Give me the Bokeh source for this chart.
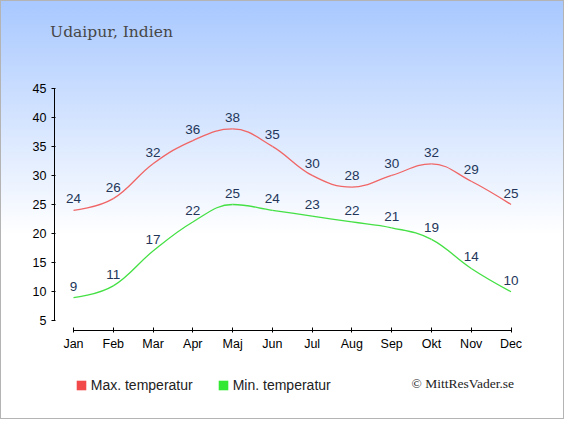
from bokeh.plotting import figure
from bokeh.models import (Range1d, LinearAxis, FixedTicker, Label, Legend, LegendItem,
                          ColumnDataSource, CustomJSTickFormatter)
from bokeh.core.properties import value
from bokeh.embed import file_html
from bokeh.resources import INLINE

months = ["Jan", "Feb", "Mar", "Apr", "Maj", "Jun", "Jul", "Aug", "Sep", "Okt", "Nov", "Dec"]
max_temp = [24, 26, 32, 36, 38, 35, 30, 28, 30, 32, 29, 25]
min_temp = [9, 11, 17, 22, 25, 24, 23, 22, 21, 19, 14, 10]
y_ticks = [5, 10, 15, 20, 25, 30, 35, 40, 45]
title_text = "Udaipur, Indien"
legend_max = "Max. temperatur"
legend_min = "Min. temperatur"
credit = "\u00a9 MittResVader.se"

W, H = 564, 419
# layout (canvas px): Jan at 72, Dec at 509.5 ; y=45 at 86.7, y=5 at 319.3
PX_X = (509.5 - 72.0) / 11.0
PX_Y = (319.3 - 86.7) / 40.0
x0 = -72.0 / PX_X
x1 = x0 + W / PX_X
y1 = 45 + 86.7 / PX_Y
y0 = 5 - (H - 319.3) / PX_Y


def dx(cx):
    return x0 + cx / PX_X


def dy(cy):
    return y1 - cy / PX_Y


p = figure(width=W, height=H, output_backend="svg", toolbar_location=None,
           x_range=Range1d(x0, x1), y_range=Range1d(y0, y1),
           x_axis_type=None, y_axis_type=None, title_location=None,
           min_border_left=0, min_border_right=0, min_border_top=0, min_border_bottom=0)
p.background_fill_color = None
p.border_fill_color = None
p.outline_line_color = None
p.grid.visible = False
p.styles = {"background": "linear-gradient(to bottom, #a8c8ff 0%, #ffffff 56%, #ffffff 100%)",
            "border": "1px solid #b4b4b4", "box-sizing": "border-box"}

xs = list(range(len(months)))

yax = LinearAxis(ticker=FixedTicker(ticks=y_ticks), bounds=(5, 45), fixed_location=dx(53.0))
yax.axis_line_color = "black"
yax.major_tick_line_color = "black"
yax.major_tick_out = 3
yax.major_tick_in = 1
yax.minor_tick_line_color = None
yax.major_label_text_font = "Liberation Sans"
yax.major_label_text_font_size = "12.5px"
yax.major_label_text_color = "#000000"
yax.major_label_standoff = 5
p.add_layout(yax, "left")

xax = LinearAxis(ticker=FixedTicker(ticks=xs), bounds=(0, 11), fixed_location=dy(328.5))
xax.formatter = CustomJSTickFormatter(args=dict(labels=months),
                                      code="return labels[Math.round(tick)] || '';")
xax.axis_line_color = "black"
xax.major_tick_line_color = "black"
xax.major_tick_out = 2
xax.major_tick_in = 3
xax.minor_tick_line_color = None
xax.major_label_text_font = "Liberation Sans"
xax.major_label_text_font_size = "12.5px"
xax.major_label_text_color = "#000000"
xax.major_label_standoff = 5
p.add_layout(xax, "below")


def spline(xv, yv):
    # Highcharts-like spline (smoothing 1.5) computed in pixel space
    px = [x * PX_X for x in xv]
    py = [-y * PX_Y for y in yv]
    n = len(px)
    left = [None] * n
    right = [None] * n
    sm, den = 1.5, 2.5
    for i in range(1, n - 1):
        lx = (sm * px[i] + px[i - 1]) / den
        ly = (sm * py[i] + py[i - 1]) / den
        rx = (sm * px[i] + px[i + 1]) / den
        ry = (sm * py[i] + py[i + 1]) / den
        if rx != lx:
            corr = ((ry - ly) * (rx - px[i])) / (rx - lx) + py[i] - ry
            ly += corr
            ry += corr
        if ly > max(py[i - 1], py[i]):
            ly = max(py[i - 1], py[i]); ry = 2 * py[i] - ly
        elif ly < min(py[i - 1], py[i]):
            ly = min(py[i - 1], py[i]); ry = 2 * py[i] - ly
        if ry > max(py[i + 1], py[i]):
            ry = max(py[i + 1], py[i]); ly = 2 * py[i] - ry
        elif ry < min(py[i + 1], py[i]):
            ry = min(py[i + 1], py[i]); ly = 2 * py[i] - ry
        left[i] = (lx, ly)
        right[i] = (rx, ry)
    d = dict(x0=[], y0=[], x1=[], y1=[], cx0=[], cy0=[], cx1=[], cy1=[])
    for i in range(n - 1):
        c0 = right[i] if right[i] else (px[i], py[i])
        c1 = left[i + 1] if left[i + 1] else (px[i + 1], py[i + 1])
        d["x0"].append(xv[i]); d["y0"].append(yv[i])
        d["x1"].append(xv[i + 1]); d["y1"].append(yv[i + 1])
        d["cx0"].append(c0[0] / PX_X); d["cy0"].append(-c0[1] / PX_Y)
        d["cx1"].append(c1[0] / PX_X); d["cy1"].append(-c1[1] / PX_Y)
    return ColumnDataSource(d)


red_line = "#f06666"
green_line = "#44e044"
p.bezier(source=spline(xs, max_temp), x0="x0", y0="y0", x1="x1", y1="y1",
         cx0="cx0", cy0="cy0", cx1="cx1", cy1="cy1", line_color=red_line, line_width=1.3)
p.bezier(source=spline(xs, min_temp), x0="x0", y0="y0", x1="x1", y1="y1",
         cx0="cx0", cy0="cy0", cx1="cx1", cy1="cy1", line_color=green_line, line_width=1.3)

lbl_color = "#233659"
for series in (max_temp, min_temp):
    src = ColumnDataSource(dict(x=xs, y=series, t=[str(v) for v in series]))
    p.text(x="x", y="y", text="t", source=src, text_align="center", text_baseline="bottom",
           y_offset=-7, text_font=value("Liberation Sans"), text_font_size="13.5px",
           text_color=lbl_color)

# legend swatches: renderers with one undefined (NaN) row so only the legend shows them
nan = float("nan")
sw_src = ColumnDataSource(dict(l=[nan], r=[nan], t=[nan], b=[nan]))
r_max_sh = p.quad(left="l", right="r", top="t", bottom="b", source=sw_src,
                  fill_color="#f24a4a", line_color=None)
r_min_sh = p.quad(left="l", right="r", top="t", bottom="b", source=sw_src,
                  fill_color="#33e833", line_color=None)
leg = Legend(items=[LegendItem(label=legend_max, renderers=[r_max_sh]),
                    LegendItem(label=legend_min, renderers=[r_min_sh])],
             orientation="horizontal", location=(73.75, H - 392.3),
             background_fill_alpha=0, border_line_color=None,
             padding=0, margin=0, spacing=24, glyph_width=12, glyph_height=12,
             label_standoff=4, label_text_font="Liberation Sans", label_text_font_size="14px",
             label_text_color="#222222", label_height=16)
p.add_layout(leg, "center")

p.add_layout(Label(x=dx(48.6), y=dy(30.8), text=title_text, text_font="DejaVu Serif",
                   text_font_size="15.5px", text_color="#474747", text_baseline="middle"))
p.add_layout(Label(x=dx(512.5), y=dy(382.4), text=credit, text_font="Liberation Serif",
                   text_font_size="13.5px", text_color="#222222", text_baseline="middle",
                   text_align="right"))

open("out.html", "w").write(file_html(p, INLINE))
